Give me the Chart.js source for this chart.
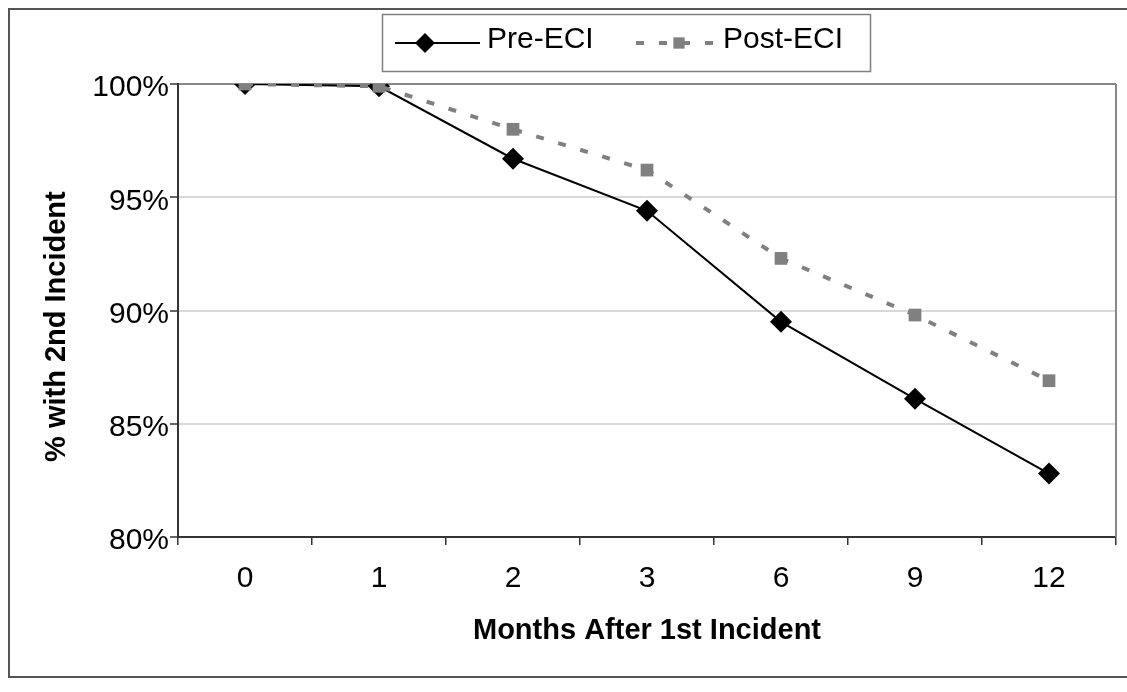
<!DOCTYPE html>
<html>
<head>
<meta charset="utf-8">
<script src="https://cdn.jsdelivr.net/npm/chart.js@4/dist/chart.umd.min.js"></script>
<style>
body { margin: 0; background: #fff; }
canvas { display: block; }
</style>
</head>
<body>
<canvas id="myChart" width="1127" height="692"></canvas>
<script>
var months = ["0", "1", "2", "3", "6", "9", "12"];
var preEci = [100, 99.9, 96.7, 94.4, 89.5, 86.1, 82.8];
var postEci = [100, 99.9, 98.0, 96.2, 92.3, 89.8, 86.9];
var yTicks = [80, 85, 90, 95, 100];

var fontFamily = "'Liberation Sans', Arial, sans-serif";

// outer frame + right edge of the plot area
var frame = {
    id: 'frame',
    beforeDraw: function (chart) {
        var ctx = chart.ctx;
        ctx.save();
        ctx.fillStyle = '#fff';
        ctx.fillRect(0, 0, chart.width, chart.height);
        ctx.strokeStyle = '#555';
        ctx.lineWidth = 2;
        ctx.strokeRect(9, 9, chart.width + 10, 668);
        ctx.restore();
    },
    beforeDatasetsDraw: function (chart) {
        var a = chart.chartArea;
        var ctx = chart.ctx;
        ctx.save();
        ctx.strokeStyle = '#888';
        ctx.lineWidth = 2;
        ctx.beginPath();
        ctx.moveTo(a.right, a.top);
        ctx.lineTo(a.right, a.bottom);
        ctx.stroke();
        ctx.restore();
    }
};

function drawMark(ctx, style, x, y, r, color) {
    ctx.fillStyle = color;
    ctx.beginPath();
    if (style === 'rectRot') {
        ctx.moveTo(x, y - r);
        ctx.lineTo(x + r, y);
        ctx.lineTo(x, y + r);
        ctx.lineTo(x - r, y);
    } else {
        var s = r * Math.SQRT1_2;
        ctx.rect(x - s, y - s, 2 * s, 2 * s);
    }
    ctx.closePath();
    ctx.fill();
}

// legend: line sample with marker, boxed
var legendBox = {
    id: 'legendBox',
    afterDraw: function (chart) {
        var ctx = chart.ctx;
        var items = [
            { x1: 395, x2: 480, mark: 425, textX: 487, ds: 0 },
            { x1: 636, x2: 713, mark: 679, textX: 723, ds: 1 }
        ];
        ctx.save();
        ctx.strokeStyle = '#808080';
        ctx.lineWidth = 1.5;
        ctx.strokeRect(382.5, 14.5, 488, 57);
        items.forEach(function (it) {
            var d = chart.data.datasets[it.ds];
            ctx.strokeStyle = d.borderColor;
            ctx.lineWidth = d.borderWidth;
            ctx.setLineDash(d.borderDash || []);
            ctx.beginPath();
            ctx.moveTo(it.x1, 43);
            ctx.lineTo(it.x2, 43);
            ctx.stroke();
            ctx.setLineDash([]);
            drawMark(ctx, d.pointStyle, it.mark, 43, d.pointRadius - 1, d.pointBackgroundColor);
            ctx.fillStyle = '#000';
            ctx.font = '30px ' + fontFamily;
            ctx.textAlign = 'left';
            ctx.textBaseline = 'middle';
            ctx.fillText(d.label, it.textX, 40);
        });
        ctx.restore();
    }
};

var ctx = document.getElementById('myChart');

var myLineChart = new Chart(ctx, {
    type: 'line',
    data: {
        labels: months,
        datasets: [{
            label: 'Pre-ECI',
            data: preEci,
            borderColor: '#000',
            borderWidth: 2,
            pointStyle: 'rectRot',
            pointRadius: 11,
            pointBackgroundColor: '#000',
            pointBorderWidth: 0,
            tension: 0,
            order: 1
        }, {
            label: 'Post-ECI',
            data: postEci,
            borderColor: '#808080',
            borderWidth: 4,
            borderDash: [8, 15],
            pointStyle: 'rect',
            pointRadius: 9,
            pointBackgroundColor: '#808080',
            pointBorderWidth: 0,
            tension: 0,
            order: 0
        }]
    },
    options: {
        responsive: false,
        animation: false,
        layout: {
            padding: { left: 0, top: 84, right: 8, bottom: 0 }
        },
        plugins: {
            legend: { display: false },
            tooltip: { enabled: false }
        },
        scales: {
            x: {
                offset: true,
                grid: {
                    offset: true,
                    drawOnChartArea: false,
                    drawTicks: true,
                    tickLength: 8,
                    tickColor: '#333',
                    lineWidth: 1.5
                },
                border: { color: '#333', width: 2 },
                ticks: {
                    color: '#000',
                    padding: 16,
                    maxRotation: 0,
                    font: { family: fontFamily, size: 30 }
                },
                title: {
                    display: true,
                    text: 'Months After 1st Incident',
                    color: '#000',
                    font: { family: fontFamily, size: 29, weight: 'bold' },
                    padding: { top: 0, bottom: 44 }
                },
                afterFit: function (scale) {
                    scale.height = 155;
                }
            },
            y: {
                min: yTicks[0],
                max: yTicks[yTicks.length - 1],
                afterBuildTicks: function (scale) {
                    scale.ticks = yTicks.map(function (v) { return { value: v }; });
                },
                grid: {
                    color: function (c) {
                        return c.tick && c.tick.value === 100 ? '#888' : '#d9d9d9';
                    },
                    lineWidth: 2,
                    drawTicks: true,
                    tickLength: 8,
                    tickColor: '#333',
                    tickWidth: 1.5
                },
                border: { color: '#333', width: 2 },
                ticks: {
                    color: '#000',
                    padding: 1,
                    labelOffset: 4,
                    font: { family: fontFamily, size: 30 },
                    callback: function (v) { return v + '%'; }
                },
                title: {
                    display: true,
                    // trailing spaces nudge the rotated title down a little
                    text: '% with 2nd Incident    ',
                    color: '#000',
                    font: { family: fontFamily, size: 29, weight: 'bold' },
                    padding: { top: 40, bottom: 0 }
                },
                afterFit: function (scale) {
                    scale.width = 178;
                }
            }
        }
    },
    plugins: [frame, legendBox]
});
</script>
</body>
</html>
